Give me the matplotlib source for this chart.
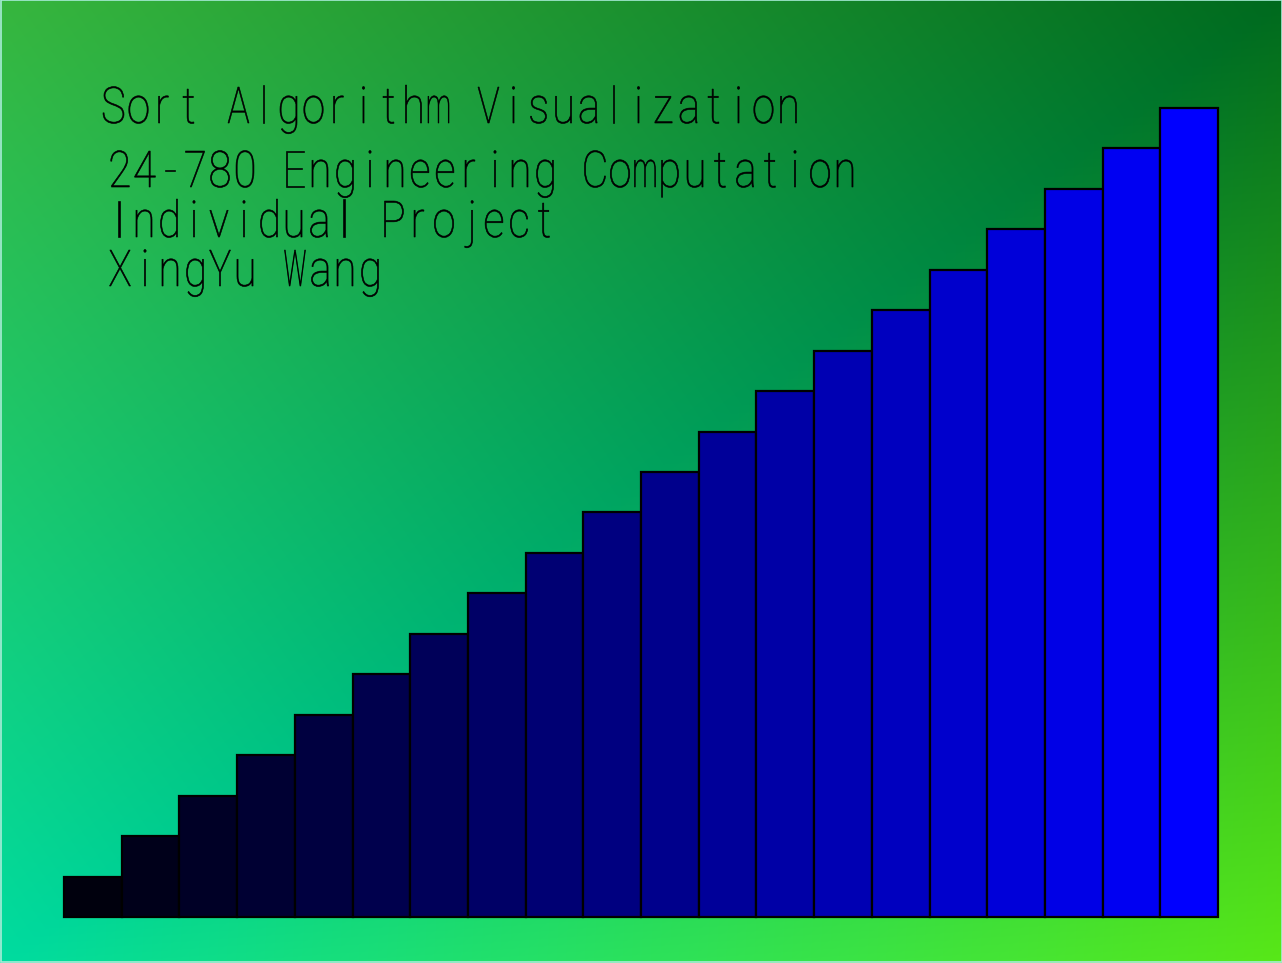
import numpy as np
import matplotlib
matplotlib.use("Agg")
import matplotlib.pyplot as plt
from matplotlib.textpath import TextPath
from matplotlib.patches import PathPatch, Rectangle
from matplotlib.font_manager import FontProperties
from matplotlib.transforms import Affine2D


# bar heights (already sorted)
values = [1, 2, 3, 4, 5, 6, 7, 8, 9, 10, 11, 12, 13, 14, 15, 16, 17, 18, 19, 20]

title_lines = ["Sort Algorithm Visualization",
               "24-780 Engineering Computation",
               "Individual Project",
               "XingYu Wang"]

W, H = 1282, 963

# corner colours of the background quad
c_tl = np.array([55, 182, 62]) / 255
c_tr = np.array([0, 106, 30]) / 255
c_bl = np.array([0, 220, 160]) / 255
c_br = np.array([88, 232, 24]) / 255

fig = plt.figure(figsize=(W / 100, H / 100), dpi=100)

ax_bg = fig.add_axes([0, 0, 1, 1])
u = np.linspace(0, 1, W)[None, :, None]
v = np.linspace(0, 1, H)[:, None, None]
upper = c_tl + u * (c_tr - c_tl) + v * (c_bl - c_tl)
lower = c_br + (1 - u) * (c_bl - c_br) + (1 - v) * (c_tr - c_br)
grad = np.where(u + v <= 1, upper, lower)
ax_bg.imshow(np.clip(grad, 0, 1), extent=[0, W, H, 0], aspect='auto')
ax_bg.set_xlim(0, W)
ax_bg.set_ylim(H, 0)
ax_bg.axis('off')
ax_bg.add_patch(Rectangle((0.5, 0.5), W - 1, H - 1, fill=False,
                          edgecolor='#a8ecd8', lw=1.2))

# monospaced thin text, one glyph per cell
fp = FontProperties(family='Roboto', weight=100)


def mono_text(ax, s, x0, baseline, pitch=25.0, sx=42, sy=50.6, maxw=21):
    for k, ch in enumerate(s):
        if ch == ' ':
            continue
        tp = TextPath((0, 0), ch, size=1, prop=fp)
        ext = tp.get_extents()
        cx = (ext.x0 + ext.x1) / 2
        gx = min(sx, maxw / max(ext.width, 1e-6))
        tr = Affine2D().translate(-cx, 0).scale(gx, -sy).translate(x0 + k * pitch, baseline)
        ax.add_patch(PathPatch(tr.transform_path(tp), facecolor='black',
                               edgecolor='black', lw=0.45))


mono_text(ax_bg, title_lines[0], 113.5, 123)
mono_text(ax_bg, title_lines[1], 120, 187)
mono_text(ax_bg, title_lines[2], 119, 237)
mono_text(ax_bg, title_lines[3], 120, 286)

# bars
ax = fig.add_axes([64 / W, (H - 917) / H, (1218 - 64) / W, (917 - 108) / H])
ax.patch.set_visible(False)
x = np.arange(len(values))
vmax = max(values)
colors = [(0, 0, val / vmax) for val in values]
ax.bar(x, values, width=1.0, color=colors, edgecolor='black', linewidth=1.6,
       clip_on=False)
ax.set_xlim(-0.5, len(values) - 0.5)
ax.set_ylim(0, vmax)
ax.axis('off')

fig.savefig("out.png", dpi=100)
